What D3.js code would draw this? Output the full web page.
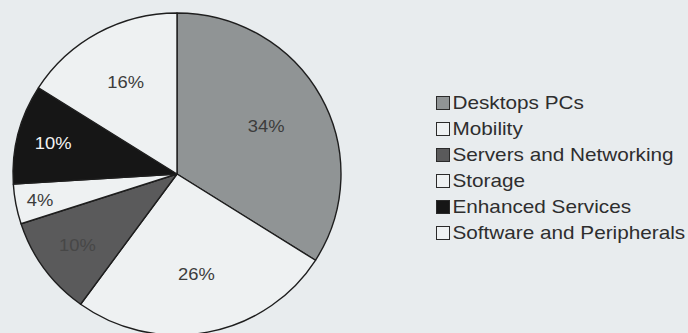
<!DOCTYPE html>
<html>
<head>
<meta charset="utf-8">
<script src="https://cdn.jsdelivr.net/npm/d3@7/dist/d3.min.js"></script>
<style>
  html, body { margin: 0; padding: 0; background: #e8ecee; }
  svg { display: block; }
  text { font-family: "Liberation Sans", Arial, Helvetica, sans-serif; }
</style>
</head>
<body>
<svg id="chart" width="688" height="333"></svg>
<script>
// Revenue share by segment
const categories = ["Desktops PCs", "Mobility", "Servers and Networking", "Storage", "Enhanced Services", "Software and Peripherals"];
const shares = [34, 26, 10, 4, 10, 16];
const fills = ["#909495", "#eef1f2", "#5a5a5b", "#eef1f2", "#161616", "#eef1f2"];
const labelColors = ["#3c3c3c", "#3c3c3c", "#474747", "#3c3c3c", "#f4f4f4", "#3c3c3c"];

const svg = d3.select("#chart");

const cx = 177, cy = 174, r = 164, ry = 161;

const pie = d3.pie().sort(null).value(d => d.v);
const arcs = pie(categories.map((c, i) => ({ c, v: shares[i], i })));
const arc = d3.arc().innerRadius(0).outerRadius(r);

const g = svg.append("g")
  .attr("transform", `translate(${cx},${cy}) scale(1,${ry / r})`);

g.selectAll("path.slice")
  .data(arcs)
  .join("path")
  .attr("class", "slice")
  .attr("d", arc)
  .attr("fill", d => fills[d.data.i])
  .attr("stroke", "#1e1e1e")
  .attr("stroke-width", 1.4)
  .attr("stroke-linejoin", "round");

// Percentage labels, placed along each slice's bisector
const labelRadius = [0.62, 0.63, 0.75, 0.85, 0.78, 0.65];
svg.append("g")
  .selectAll("text")
  .data(arcs)
  .join("text")
  .attr("transform", d => {
    const a = (d.startAngle + d.endAngle) / 2;
    const rr = r * labelRadius[d.data.i];
    const x = cx + Math.sin(a) * rr;
    const y = cy - Math.cos(a) * rr * (ry / r);
    return `translate(${x},${y}) scale(1.08,1)`;
  })
  .attr("text-anchor", "middle")
  .attr("dy", "0.36em")
  .attr("font-size", 17)
  .attr("fill", d => labelColors[d.data.i])
  .text(d => d.data.v + "%");

// Legend
const legend = svg.append("g").attr("transform", "translate(436,103)");
const rowH = 26;
const rows = legend.selectAll("g")
  .data(categories)
  .join("g")
  .attr("transform", (d, i) => `translate(0,${i * rowH})`);

rows.append("rect")
  .attr("x", 0.5).attr("y", -6.5)
  .attr("width", 13).attr("height", 13)
  .attr("fill", (d, i) => fills[i])
  .attr("stroke", "#2a2a2a")
  .attr("stroke-width", 1);

rows.append("text")
  .attr("transform", "translate(16.5,0) scale(1.185,1)")
  .attr("dy", "0.36em")
  .attr("font-size", 17.5)
  .attr("fill", "#2e2e2e")
  .text(d => d);
</script>
</body>
</html>
